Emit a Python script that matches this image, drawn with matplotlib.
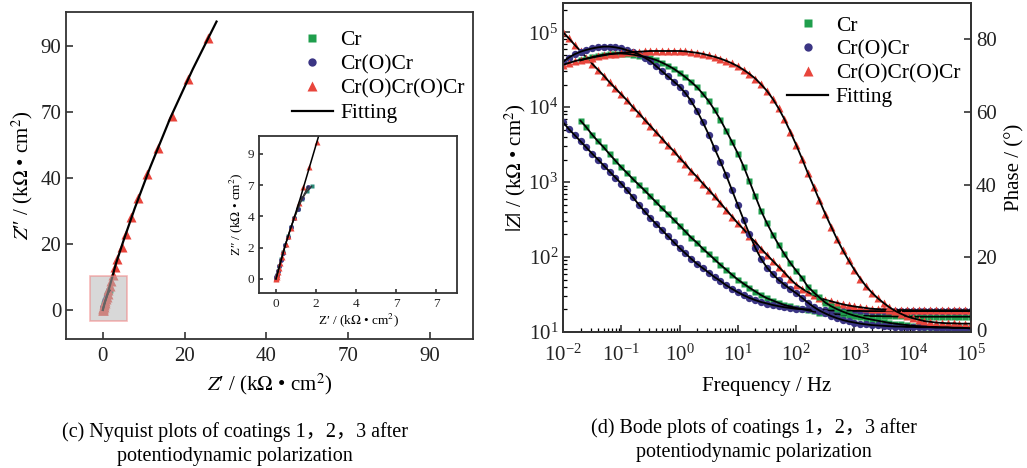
import matplotlib
matplotlib.use("Agg")
import matplotlib.pyplot as plt
from matplotlib.lines import Line2D
from matplotlib.patches import Rectangle
from matplotlib.ticker import LogLocator, NullFormatter, FixedLocator

plt.rcParams['font.family'] = ['Liberation Serif', 'Noto Sans CJK SC']
plt.rcParams['mathtext.fontset'] = 'stix'

GREEN = '#1f9e4c'
BLUE = '#3b3584'
RED = '#e8453c'
labels = ['Cr', 'Cr(O)Cr', 'Cr(O)Cr(O)Cr']

# ---------------- Nyquist data (kOhm cm2, axis positions) ----------------
nyq_cr_re = [0, 0.02, 0.05, 0.1, 0.17, 0.25, 0.35, 0.47, 0.6, 0.75, 0.92, 1.1, 1.3, 1.55, 1.78]
nyq_cr_im = [0, 0.1, 0.25, 0.5, 0.85, 1.25, 1.7, 2.2, 2.75, 3.3, 3.9, 4.5, 5.1, 5.6, 5.92]
nyq_cro_re = [0, 0.02, 0.05, 0.1, 0.16, 0.24, 0.34, 0.46, 0.6, 0.75, 0.92, 1.1, 1.3, 1.6]
nyq_cro_im = [0, 0.1, 0.25, 0.5, 0.8, 1.2, 1.65, 2.15, 2.7, 3.3, 3.9, 4.5, 5.15, 5.9]
nyq_crocr_re = [0.0, 0.01, 0.03, 0.05, 0.09, 0.14, 0.2, 0.28, 0.37, 0.48, 0.62, 0.75, 0.92, 1.15,
                1.37, 1.65, 2.07, 2.4, 3.0, 3.5, 4.8, 5.6, 7.0, 8.6, 10.9, 13.5, 16.8, 20.9, 25.7]
nyq_crocr_im = [0.0, 0.03, 0.12, 0.25, 0.45, 0.7, 1.0, 1.4, 1.81, 2.24, 2.75, 3.24, 3.94, 4.88,
                5.9, 7.18, 8.77, 10.6, 13.1, 15.5, 19.2, 22.9, 28.1, 33.8, 41.1, 49.2, 58.8, 69.9, 82.5]
fit_crocr_re = [0, 0.5, 1.2, 2.1, 3.2, 5.0, 7.8, 11.5, 16.5, 22, 27.8]
fit_crocr_im = [0, 2.3, 5.1, 9.0, 14.0, 20.8, 30.8, 43.0, 58.2, 73.0, 87.4]

nyq_ticks = [0, 20, 40, 60, 80]
nyq_ticklabels = ['0', '20', '40', '70', '90']
inset_ticks = [0, 2, 4, 6, 8]
inset_xticklabels = ['0', '2', '4', '7', '7']
inset_yticklabels = ['0', '2', '4', '7', '9']

# ---------------- Bode data ----------------
mant = [1.0, 1.26, 1.58, 2.0, 2.51, 3.16, 3.98, 5.01, 6.31, 7.94]
freq = [m * 10.0 ** e for e in range(-2, 5) for m in mant] + [1e5]
freq_cr = freq[3:]

z_cr = [6600, 5400, 4300, 3500, 2900, 2350, 1930, 1580,
        1320, 1100, 920, 775, 645, 537, 447, 376, 316, 263,
        219, 182, 155, 129, 110, 93, 79, 68, 58, 50,
        44, 39, 34.7, 31, 28.2, 26.3, 24.5, 22.9, 21.9, 20.9,
        20.2, 19.5, 18.8, 18.2, 17.8, 17.4, 17.2, 17.0, 16.8, 16.6,
        16.5, 16.4, 16.3, 16.3, 16.2, 16.2, 16.1, 16.1, 16.1, 16.0,
        16.0, 16.0, 16.0, 16.0, 16.0, 16.0, 16.0, 16.0, 16.0, 16.0]
z_cro = [6300, 5100, 4250, 3500, 2900, 2400, 2000, 1660, 1380, 1150,
         955, 776, 630, 500, 407, 331, 275, 229, 190, 158,
         132, 112, 95, 81, 71, 62, 54, 48, 42, 37.6,
         33.9, 30.9, 28.5, 26.6, 25.1, 24.0, 22.9, 22.1, 21.4, 20.9,
         20.4, 20.2, 20.0, 19.8, 19.7, 19.5, 19.4, 19.3, 19.2, 19.2,
         19.1, 19.1, 19.0, 19.0, 19.0, 19.0, 19.0, 19.0, 19.0, 19.0,
         19.0, 19.0, 19.0, 19.0, 19.0, 19.0, 19.0, 19.0, 19.0, 19.0, 19.0]
z_crocr = [100000, 83000, 68000, 56000, 46000, 38000, 31600, 26300, 21400, 17800,
           14800, 12300, 10000, 8300, 6800, 5600, 4600, 3800, 3100, 2600,
           2100, 1740, 1410, 1170, 955, 790, 645, 525, 427, 347,
           282, 234, 190, 158, 129, 107, 89, 74, 62, 51,
           43, 38, 34, 31, 28.8, 26.9, 25.7, 24.5, 23.4, 22.6,
           21.9, 21.4, 20.9, 20.4, 20.2, 20.0, 19.8, 19.7, 19.6, 19.6,
           19.5, 19.5, 19.5, 19.5, 19.5, 19.5, 19.5, 19.5, 19.5, 19.5, 19.5]

ph_cr = [74.2, 74.7, 75.1, 75.5, 75.8, 76.0, 76.1, 76.1,
         76.0, 75.8, 75.5, 75.2, 74.8, 74.3, 73.6, 72.8, 71.9, 70.8,
         69.6, 68.3, 66.8, 65.0, 63.0, 60.6, 57.9, 54.9, 51.8, 48.6,
         45.0, 41.0, 36.8, 32.8, 29.4, 26.3, 23.5, 20.9, 18.5, 16.4,
         14.4, 12.0, 10.4, 9.0, 7.6, 6.6, 5.8, 5.1, 4.5, 4.0,
         3.6, 3.2, 2.9, 2.6, 2.3, 2.0, 1.8, 1.6, 1.4, 1.2,
         1.1, 1.0, 0.9, 0.9, 0.8, 0.8, 0.7, 0.7, 0.6, 0.5]
ph_cro = [73.8, 75.0, 75.9, 76.6, 77.1, 77.5, 77.8, 78.0, 78.0, 77.8,
          77.5, 77.0, 76.5, 75.9, 75.0, 74.0, 72.6, 71.2, 69.8, 68.4,
          67.0, 65.2, 63.0, 60.3, 57.2, 53.8, 50.0, 46.4, 42.6, 38.5,
          34.4, 30.3, 26.4, 22.6, 19.6, 17.2, 15.4, 13.8, 12.5, 11.3,
          10.2, 8.9, 7.6, 6.4, 5.4, 4.6, 3.9, 3.3, 2.8, 2.4,
          2.1, 1.8, 1.6, 1.4, 1.3, 1.2, 1.1, 1.0, 1.0, 0.9,
          0.9, 0.8, 0.8, 0.8, 0.7, 0.7, 0.7, 0.6, 0.6, 0.6, 0.5]
ph_crocr = [73.0, 73.5, 74.0, 74.4, 74.7, 75.0, 75.3, 75.6, 75.9, 76.1,
            76.3, 76.4, 76.5, 76.6, 76.7, 76.8, 76.8, 76.8, 76.8, 76.8,
            76.8, 76.7, 76.5, 76.3, 76.0, 75.6, 75.2, 74.7, 74.1, 73.4,
            72.6, 71.6, 70.5, 69.2, 67.6, 65.8, 63.6, 61.0, 58.0, 54.6,
            51.0, 47.2, 43.3, 39.5, 35.7, 32.0, 28.5, 25.1, 22.0, 19.2,
            16.6, 14.2, 12.1, 10.3, 8.8, 7.5, 6.3, 5.3, 4.5, 3.8,
            3.3, 2.9, 2.5, 2.3, 2.1, 2.0, 1.9, 1.9, 1.8, 1.8, 1.8]

W, H = 1027, 468
fig = plt.figure(figsize=(W / 100, H / 100), dpi=100)


def px_axes(left, top, right, bottom):
    return fig.add_axes([left / W, 1 - bottom / H, (right - left) / W, (bottom - top) / H])


def style(ax, size):
    for s in ax.spines.values():
        s.set_linewidth(1.3)
        s.set_color('#333333')
    ax.tick_params(direction='in', length=5, width=1.1, labelsize=size, colors='#222222')


# ---------------- (c) Nyquist ----------------
ax1 = px_axes(66, 12, 473, 339)
style(ax1, 15)
ax1.tick_params(axis='x', pad=6)
ax1.plot(nyq_cr_re, nyq_cr_im, 's', color=GREEN, ms=5, mec='none')
ax1.plot(nyq_cro_re, nyq_cro_im, 'o', color=BLUE, ms=5, mec='none')
ax1.plot(nyq_crocr_re, nyq_crocr_im, '^', color=RED, ms=7, mec='none')
ax1.plot(nyq_cr_re, nyq_cr_im, '-', color='k', lw=1.2)
ax1.plot(nyq_cro_re, nyq_cro_im, '-', color='k', lw=1.2)
ax1.plot(fit_crocr_re, fit_crocr_im, '-', color='k', lw=1.6)
ax1.add_patch(Rectangle((-3.2, -3.3), 9.1, 13.6, facecolor='#b8b8b8', alpha=0.55,
                        edgecolor='#f08080', lw=1.2, zorder=5))
ax1.set_xlim(-9, 90.5)
ax1.set_ylim(-8.8, 90.3)
ax1.set_xticks(nyq_ticks, nyq_ticklabels)
ax1.set_yticks(nyq_ticks, nyq_ticklabels)
ax1.set_xlabel("$Z$′ / (k$\\Omega$ • cm$^2$)", fontsize=15, labelpad=4)
ax1.set_ylabel("$Z$″ / (k$\\Omega$ • cm$^2$)", fontsize=15, labelpad=4)

handles = [Line2D([], [], ls='none', marker='s', color=GREEN, ms=6, mec='none'),
           Line2D([], [], ls='none', marker='o', color=BLUE, ms=6, mec='none'),
           Line2D([], [], ls='none', marker='^', color=RED, ms=7, mec='none'),
           Line2D([], [], color='k', lw=1.6)]
ax1.legend(handles, labels + ['Fitting'], loc='upper left', bbox_to_anchor=(0.555, 0.945),
           frameon=False, fontsize=15.5, handlelength=1.9, handletextpad=0.35,
           labelspacing=0.2, borderpad=0, borderaxespad=0)

# inset
axi = px_axes(259, 136, 457, 293)
style(axi, 9.5)
axi.tick_params(length=3)
axi.plot(nyq_cr_re, nyq_cr_im, 's', color='#2a8a7a', ms=3.5, mec='none')
axi.plot(nyq_cro_re, nyq_cro_im, 'o', color=BLUE, ms=3.5, mec='none')
axi.plot(nyq_crocr_re, nyq_crocr_im, '^', color=RED, ms=4, mec='none')
axi.plot(nyq_cr_re, nyq_cr_im, '-', color='#333333', lw=0.9)
axi.plot(nyq_cro_re, nyq_cro_im, '-', color='#333333', lw=0.9)
axi.plot(fit_crocr_re, fit_crocr_im, '-', color='k', lw=1.1)
axi.set_xlim(-0.85, 9.05)
axi.set_ylim(-0.9, 9.14)
axi.set_xticks(inset_ticks, inset_xticklabels)
axi.set_yticks(inset_ticks, inset_yticklabels)
axi.set_xlabel("Z′ / (k$\\Omega$ • cm$^2$)", fontsize=9.5, labelpad=1)
axi.set_ylabel("Z″ / (k$\\Omega$ • cm$^2$)", fontsize=9.5, labelpad=2)

# ---------------- (d) Bode ----------------
ax3 = px_axes(563, 3, 971, 332)
ax4 = ax3.twinx()
style(ax3, 15)
style(ax4, 15)
ax3.set_xscale('log')
ax3.set_yscale('log')
ax3.plot(freq_cr, z_cr, 's', color=GREEN, ms=5, mec='none')
ax3.plot(freq, z_cro, 'o', color=BLUE, ms=5.3, mec='none')
ax3.plot(freq, z_crocr, '^', color=RED, ms=5.5, mec='none')
ax4.plot(freq_cr, ph_cr, 's', color=GREEN, ms=5, mec='none')
ax4.plot(freq, ph_cro, 'o', color=BLUE, ms=5.3, mec='none')
ax4.plot(freq, ph_crocr, '^', color=RED, ms=5.5, mec='none')
for f, z in [(freq_cr, z_cr), (freq, z_cro), (freq, z_crocr)]:
    ax3.plot(f, z, '-', color='k', lw=1.3)
for f, p in [(freq_cr, ph_cr), (freq, ph_cro), (freq, ph_crocr)]:
    ax4.plot(f, p, '-', color='k', lw=1.3)

ax3.set_xlim(1e-2, 1e5)
ax3.set_ylim(10, 10 ** 5.39)
ax4.set_ylim(-0.5, 90)
ax3.xaxis.set_major_locator(LogLocator(base=10, numticks=20))
ax3.xaxis.set_minor_locator(LogLocator(base=10, subs=range(2, 10), numticks=20))
ax3.xaxis.set_minor_formatter(NullFormatter())
ax3.yaxis.set_major_locator(FixedLocator([1e1, 1e2, 1e3, 1e4, 1e5]))
ax3.yaxis.set_minor_locator(LogLocator(base=10, subs=range(2, 10), numticks=20))
ax3.yaxis.set_minor_formatter(NullFormatter())
ax3.tick_params(which='minor', direction='in', length=3, width=0.9)
ax3.tick_params(axis='x', pad=9)
ax4.set_yticks([0, 20, 40, 60, 80])
ax3.set_xlabel('Frequency / Hz', fontsize=15, labelpad=8)
ax3.set_ylabel("$|Z|$ / (k$\\Omega$ • cm$^2$)", fontsize=15, labelpad=0)
ax4.set_ylabel('Phase / (°)', fontsize=15, labelpad=6)
ax4.legend(handles, labels + ['Fitting'], loc='upper left', bbox_to_anchor=(0.55, 0.962),
           frameon=False, fontsize=15.5, handlelength=1.9, handletextpad=0.35,
           labelspacing=0.18, borderpad=0, borderaxespad=0)

# captions
fig.text(235 / W, 1 - 444 / H, '(c) Nyquist plots of coatings 1，2，3 after\npotentiodynamic polarization',
         ha='center', va='center', fontsize=14.5, linespacing=1.35)
fig.text(754 / W, 1 - 440 / H, '(d) Bode plots of coatings 1，2，3 after\npotentiodynamic polarization',
         ha='center', va='center', fontsize=14.5, linespacing=1.35)

fig.savefig('out.png', dpi=100)
